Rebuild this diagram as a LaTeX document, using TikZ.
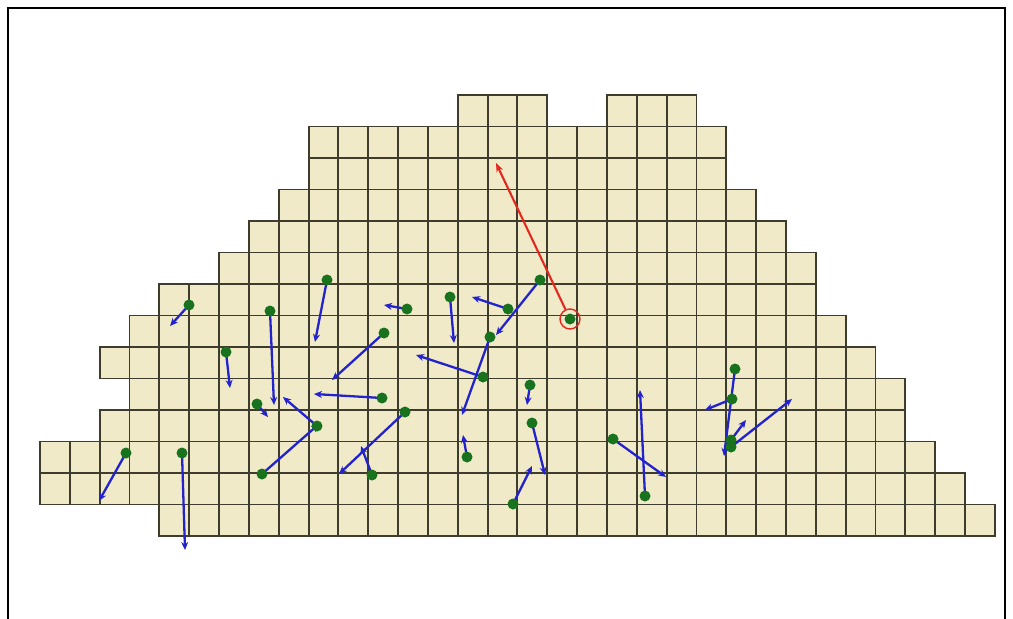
\documentclass[tikz,border=0pt]{standalone}
\usetikzlibrary{arrows.meta}
\definecolor{cellfill}{RGB}{241,234,200}
\definecolor{cellline}{RGB}{62,60,44}
\definecolor{vblue}{RGB}{35,35,205}
\definecolor{dgreen}{RGB}{25,115,30}
\definecolor{vred}{RGB}{228,40,30}
\tikzset{
  cell/.style={fill=cellfill,draw=cellline,line width=1.9pt},
  frame/.style={draw=black,line width=2pt},
  vel/.style={draw=vblue,line width=2.3pt,-{Stealth[length=8pt,width=7pt]}},
  redvel/.style={draw=vred,line width=2.1pt,-{Stealth[length=9pt,width=7pt]}},
  particle/.style={circle,fill=dgreen,inner sep=0pt,minimum size=11pt},
  ring/.style={circle,draw=vred,line width=1.4pt,fill=none,inner sep=0pt,minimum size=20pt}
}
\begin{document}
\begin{tikzpicture}[x=1pt,y=-1pt]
\useasboundingbox (0,0) rectangle (1013,619);
% frame
\draw[frame] (8,619) -- (8,8) -- (1005,8) -- (1005,619);
% grid of cells: row/first/last column
\foreach \r/\a/\b in {0/14/16,0/19/21,1/9/22,2/9/22,3/8/23,4/7/24,5/6/25,6/4/25,7/3/26,8/2/27,9/3/28,10/2/28,11/0/29,12/0/30,13/4/31}{
  \foreach \c in {\a,...,\b}{
    \draw[cell] ({40+29.84*\c},{95+31.5*\r}) rectangle ++(29.84,31.5);
  }
}
% particle positions (start) and velocity ends
\foreach \i/\sx/\sy/\ex/\ey in {
 1/189/305/170/326, 2/226/352/230/388, 3/270/311/274/405, 4/327/280/315/342,
 5/382/398/314/394, 6/257/404/268/417, 7/317/426/283/397, 8/262/474/319/424,
 9/405/412/339/474, 10/372/475/361/446, 11/407/309/384/305, 12/450/297/454/343,
 13/508/309/472/297, 14/540/280/496/335, 15/384/333/332/380, 16/490/337/462/415,
 17/483/377/416/355, 18/530/385/527/405, 19/467/457/463/435, 20/532/423/545/475,
 21/513/504/532/466, 22/613/439/666/477, 23/645/496/640/390, 24/735/369/724/456,
 25/732/399/705/410, 26/731/447/792/399, 27/731/440/746/420, 28/126/453/99/501,
 29/182/453/185/550}{
  \coordinate (s\i) at (\sx,\sy);
  \coordinate (e\i) at (\ex,\ey);
}
\coordinate (sr) at (570,319);
\coordinate (er) at (496,163);
% velocity arrows
\foreach \i in {1,...,29}{
  \draw[vel] (s\i) -- (e\i);
}
% particles
\foreach \i in {1,...,29}{
  \node[particle] (p\i) at (s\i) {};
}
\node[particle] (pr) at (sr) {};
\node[ring] (rr) at (sr) {};
\draw[redvel] (rr) -- (er);
\end{tikzpicture}
\end{document}
